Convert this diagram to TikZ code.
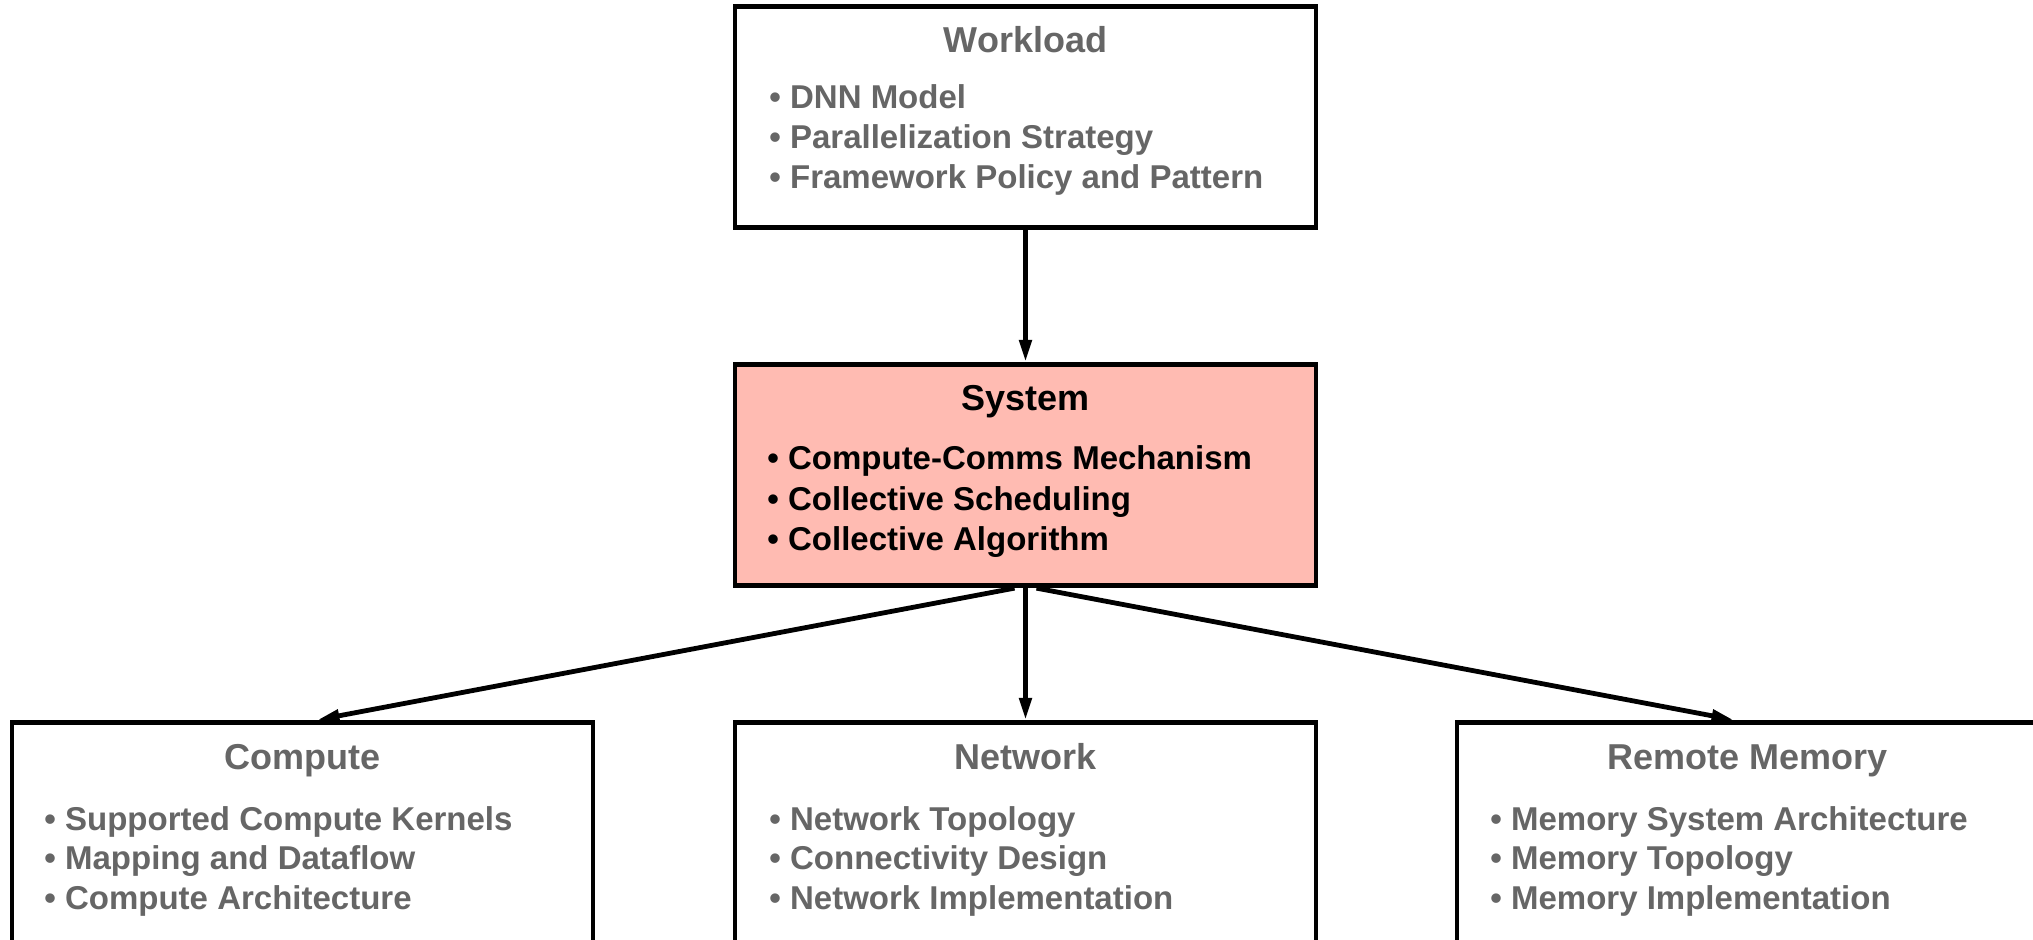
\documentclass[tikz,border=0pt]{standalone}
\usepackage{fontspec}
\setmainfont{Liberation Sans}
\usetikzlibrary{arrows.meta,calc}
\definecolor{txtgray}{RGB}{102,102,102}
\definecolor{sysfill}{RGB}{255,187,178}
\begin{document}
\begin{tikzpicture}[x=0.5pt,y=-0.5pt,
  box/.style={draw=black, line width=2.4pt, minimum width=290.5pt, minimum height=110.75pt, inner sep=0pt, fill=white},
  ttl/.style={font=\fontsize{18}{21}\selectfont\bfseries, text=txtgray, anchor=base, inner sep=0pt},
  itm/.style={font=\fontsize{16.5}{20}\selectfont\bfseries, text=txtgray, anchor=base west, inner sep=0pt},
  arr/.style={line width=2.4pt, -{Triangle[length=11pt,width=6pt]}}]
\useasboundingbox (0,0) rectangle (2033,940);
\clip (0,0) rectangle (2033,940);
\fill[white] (0,0) rectangle (2033,940);

% boxes
\node[box] (wl) at (1025.5,117) {};
\node[box, fill=sysfill] (sys) at (1025.5,475) {};
\node[box] (comp) at (302.5,833) {};
\node[box] (net) at (1025.5,833) {};
\node[box] (rem) at (1747.5,833) {};

% workload
\node[ttl] (wlt) at (1025.5,53) {Workload};
\node[itm] (wl1) at (769,109) {• DNN Model};
\node[itm] (wl2) at (769,149) {• Parallelization Strategy};
\node[itm] (wl3) at (769,189) {• Framework Policy and Pattern};

% system
\node[ttl, text=black] (syst) at (1025.5,411) {System};
\node[itm, text=black] (sys1) at (767,470) {• Compute-Comms Mechanism};
\node[itm, text=black] (sys2) at (767,510) {• Collective Scheduling};
\node[itm, text=black] (sys3) at (767,550) {• Collective Algorithm};

% compute
\node[ttl] (compt) at (302.5,769) {Compute};
\node[itm] (comp1) at (44,830) {• Supported Compute Kernels};
\node[itm] (comp2) at (44,869) {• Mapping and Dataflow};
\node[itm] (comp3) at (44,909) {• Compute Architecture};

% network
\node[ttl] (nett) at (1025.5,769) {Network};
\node[itm] (net1) at (769,830) {• Network Topology};
\node[itm] (net2) at (769,869) {• Connectivity Design};
\node[itm] (net3) at (769,909) {• Network Implementation};

% remote memory
\node[ttl] (remt) at (1747.5,769) {Remote Memory};
\node[itm] (rem1) at (1490,830) {• Memory System Architecture};
\node[itm] (rem2) at (1490,869) {• Memory Topology};
\node[itm] (rem3) at (1490,909) {• Memory Implementation};

% connectors
\draw[arr] (wl.south) -- (sys.north);
\draw[arr] (sys.south) -- (net.north);
\draw[arr] ($(sys.south)+(-11,0)$) -- ($(comp.north)+(15,0)$);
\draw[arr] ($(sys.south)+(11,0)$) -- ($(rem.north)+(-14,0)$);
\end{tikzpicture}
\end{document}
